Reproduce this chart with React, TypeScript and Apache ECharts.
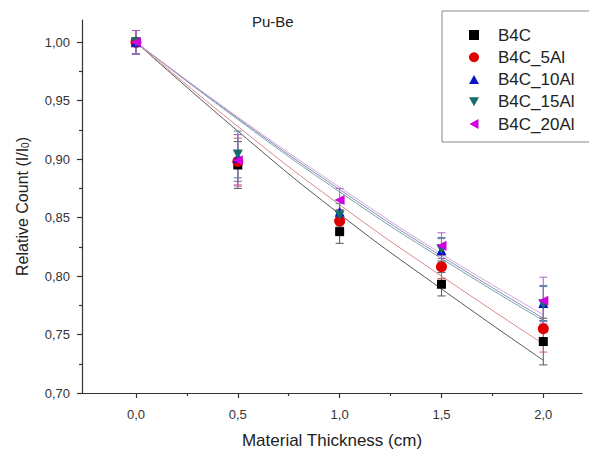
import React, { useEffect, useRef } from "react";
import * as echarts from "echarts";

const thickness = [0, 0.5, 1.0, 1.5, 2.0];
const seriesNames = ["B4C", "B4C_5Al", "B4C_10Al", "B4C_15Al", "B4C_20Al"];

const b4c = [1.0, 0.895, 0.838, 0.793, 0.744];
const b4c5 = [1.0, 0.898, 0.847, 0.808, 0.755];
const b4c10 = [1.0, 0.901, 0.855, 0.822, 0.777];
const b4c15 = [1.0, 0.904, 0.852, 0.823, 0.776];
const b4c20 = [1.0, 0.899, 0.865, 0.826, 0.779];

const b4cErr = [0.01, 0.02, 0.01, 0.01, 0.02];
const b4c5Err = [0.01, 0.02, 0.01, 0.01, 0.02];
const b4c10Err = [0.01, 0.02, 0.01, 0.01, 0.015];
const b4c15Err = [0.01, 0.02, 0.01, 0.01, 0.015];
const b4c20Err = [0.01, 0.022, 0.01, 0.011, 0.02];

const b4cFit = [1.0, 0.924, 0.853, 0.789, 0.728];
const b4c5Fit = [1.0, 0.928, 0.861, 0.8, 0.742];
const b4c10Fit = [1.0, 0.935, 0.874, 0.817, 0.764];
const b4c15Fit = [1.0, 0.934, 0.872, 0.815, 0.762];
const b4c20Fit = [1.0, 0.936, 0.876, 0.819, 0.767];

const xTicks = [0, 0.5, 1.0, 1.5, 2.0];
const xMinorTicks = [0.25, 0.75, 1.25, 1.75];
const yTicks = [0.7, 0.75, 0.8, 0.85, 0.9, 0.95, 1.0];
const yMinorTicks = [0.725, 0.775, 0.825, 0.875, 0.925, 0.975];

const values = [b4c, b4c5, b4c10, b4c15, b4c20];
const errors = [b4cErr, b4c5Err, b4c10Err, b4c15Err, b4c20Err];
const fits = [b4cFit, b4c5Fit, b4c10Fit, b4c15Fit, b4c20Fit];

const colors = ["#000000", "#e00000", "#0a14c8", "#146e6c", "#d000e0"];
const errColors = ["#555555", "#d06060", "#6a70c0", "#4a8a8a", "#b060c8"];
const fitColors = ["#555555", "#d88888", "#8090b8", "#7aa0a8", "#d8a0d8"];
const symbols = [
  "rect",
  "circle",
  "path://M5,0 L10,9 L0,9 Z",
  "path://M0,0 L10,0 L5,9 Z",
  "path://M9,0 L9,10 L0,5 Z",
];
const sizes = [9, 11, 10, 10, 10];

const FONT = "'Liberation Sans', Arial, sans-serif";

export default function App() {
  const ref = useRef<HTMLDivElement>(null);
  useEffect(() => {
    if (!ref.current) return;
    const chart = echarts.init(ref.current, null, { renderer: "svg" });

    const xMin = -0.265;
    const xMax = 2.19;
    const yMin = 0.7;
    const yMax = 1.019;

    const axisLineStyle = { color: "#333", width: 1.2 };

    const fitSeries = fits.map((f, i) => ({
      name: seriesNames[i] + " fit",
      type: "line",
      data: thickness.map((t, j) => [t, f[j]]),
      smooth: true,
      showSymbol: false,
      symbol: "none",
      lineStyle: { color: fitColors[i], width: 1 },
      z: 2,
      silent: true,
    }));

    const errSeries = errors.map((e, i) => ({
      name: seriesNames[i] + " err",
      type: "custom",
      data: thickness.map((t, j) => [t, values[i][j], e[j]]),
      z: 3,
      silent: true,
      renderItem: (params: any, api: any) => {
        const x = api.value(0);
        const y = api.value(1);
        const er = api.value(2);
        const top = api.coord([x, y + er]);
        const bot = api.coord([x, y - er]);
        const hw = 4;
        const st = { stroke: errColors[i], lineWidth: 1 };
        return {
          type: "group",
          children: [
            { type: "line", shape: { x1: top[0], y1: top[1], x2: bot[0], y2: bot[1] }, style: st },
            { type: "line", shape: { x1: top[0] - hw, y1: top[1], x2: top[0] + hw, y2: top[1] }, style: st },
            { type: "line", shape: { x1: bot[0] - hw, y1: bot[1], x2: bot[0] + hw, y2: bot[1] }, style: st },
          ],
        };
      },
    }));

    const scatterSeries = values.map((v, i) => ({
      name: seriesNames[i],
      type: "scatter",
      data: thickness.map((t, j) => [t, v[j]]),
      symbol: symbols[i],
      symbolSize: sizes[i],
      itemStyle: { color: colors[i], opacity: 1 },
      z: 4,
    }));

    chart.setOption({
      animation: false,
      backgroundColor: "#ffffff",
      textStyle: { fontFamily: FONT },
      title: {
        text: "Pu-Be",
        left: 247,
        top: 9,
        textStyle: { fontSize: 15, fontWeight: "normal", color: "#222", fontFamily: FONT },
      },
      legend: {
        data: seriesNames.map((n) => ({ name: n, itemStyle: { opacity: 1 } })),
        orient: "vertical",
        left: 469,
        top: 25,
        padding: 0,
        itemWidth: 10,
        itemHeight: 10,
        itemGap: 2.25,
        textStyle: {
          fontSize: 17,
          color: "#222",
          fontFamily: FONT,
          lineHeight: 20,
          padding: [0, 0, 0, 14],
        },
      },
      grid: { left: 82, right: 7, top: 20, bottom: 57, containLabel: false },
      xAxis: [
        {
          type: "value",
          min: xMin,
          max: xMax,
          position: "bottom",
          name: "Material Thickness (cm)",
          nameLocation: "middle",
          nameGap: 39,
          nameTextStyle: { fontSize: 17, color: "#222", fontFamily: FONT },
          axisLine: { show: true, onZero: false, lineStyle: axisLineStyle },
          axisTick: { show: true, length: 5, customValues: xTicks, lineStyle: axisLineStyle },
          axisLabel: {
            customValues: xTicks,
            fontSize: 13,
            color: "#333",
            margin: 15,
            formatter: (v: number) => v.toFixed(1).replace(".", ","),
          },
          splitLine: { show: false },
        },
        {
          type: "value",
          min: xMin,
          max: xMax,
          position: "bottom",
          axisLine: { show: false, onZero: false },
          axisTick: { show: true, length: 3, customValues: xMinorTicks, lineStyle: axisLineStyle },
          axisLabel: { show: false },
          splitLine: { show: false },
        },
      ],
      yAxis: [
        {
          type: "value",
          min: yMin,
          max: yMax,
          position: "left",
          name: "{a|Relative Count (I/I}{b|0}{a|)}",
          nameLocation: "middle",
          nameGap: 52,
          nameTextStyle: {
            rich: {
              a: { fontSize: 16, color: "#222", fontFamily: FONT },
              b: { fontSize: 10, color: "#222", fontFamily: FONT, verticalAlign: "bottom", padding: [6, 0, 0, 0] },
            },
          },
          axisLine: { show: true, onZero: false, lineStyle: axisLineStyle },
          axisTick: { show: true, length: 5, customValues: yTicks, lineStyle: axisLineStyle },
          axisLabel: {
            customValues: yTicks,
            fontSize: 13,
            color: "#333",
            margin: 12,
            formatter: (v: number) => v.toFixed(2).replace(".", ","),
          },
          splitLine: { show: false },
        },
        {
          type: "value",
          min: yMin,
          max: yMax,
          position: "left",
          axisLine: { show: false, onZero: false },
          axisTick: { show: true, length: 3, customValues: yMinorTicks, lineStyle: axisLineStyle },
          axisLabel: { show: false },
          splitLine: { show: false },
        },
      ],
      graphic: [
        {
          type: "rect",
          shape: { x: 442, y: 11, width: 160, height: 131 },
          style: { fill: "none", stroke: "#888", lineWidth: 1 },
          silent: true,
          z: 0,
        },
      ],
      series: [...fitSeries, ...errSeries, ...scatterSeries],
    });

    return () => chart.dispose();
  }, []);

  return (
    <div
      ref={ref}
      style={{ position: "fixed", left: 0, top: 0, width: 589, height: 454, background: "#fff" }}
    />
  );
}
